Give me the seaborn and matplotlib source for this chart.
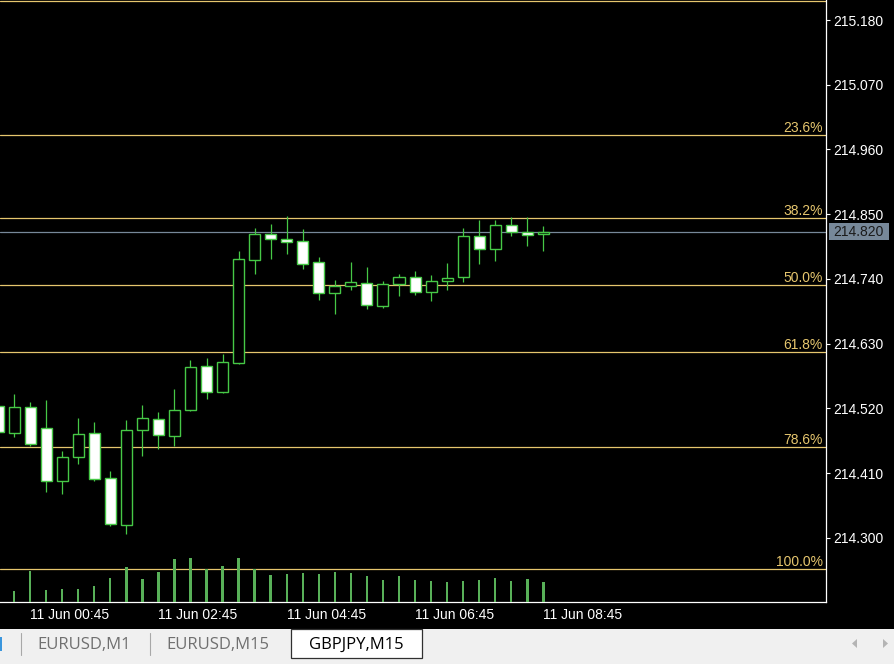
import matplotlib
matplotlib.use("Agg")
import matplotlib.pyplot as plt
from matplotlib.patches import Rectangle, Polygon
from matplotlib.transforms import blended_transform_factory
import numpy as np
import seaborn as sns

# GBPJPY M15 bars, 11 Jun
times = ["00:15", "00:30", "00:45", "01:00", "01:15", "01:30", "01:45", "02:00",
         "02:15", "02:30", "02:45", "03:00", "03:15", "03:30", "03:45", "04:00",
         "04:15", "04:30", "04:45", "05:00", "05:15", "05:30", "05:45", "06:00",
         "06:15", "06:30", "06:45", "07:00", "07:15", "07:30", "07:45", "08:00",
         "08:15", "08:30", "08:45"]
opens = [214.524, 214.478, 214.523, 214.487, 214.397, 214.438, 214.478, 214.402,
         214.322, 214.483, 214.502, 214.473, 214.517, 214.592, 214.548, 214.597,
         214.772, 214.816, 214.808, 214.805, 214.769, 214.716, 214.728, 214.733,
         214.694, 214.731, 214.743, 214.718, 214.737, 214.743, 214.813, 214.791,
         214.832, 214.820, 214.816]
highs = [214.534, 214.545, 214.531, 214.534, 214.448, 214.504, 214.497, 214.414,
         214.500, 214.526, 214.514, 214.553, 214.602, 214.606, 214.613, 214.788,
         214.827, 214.833, 214.847, 214.825, 214.777, 214.738, 214.769, 214.760,
         214.737, 214.748, 214.754, 214.747, 214.767, 214.827, 214.840, 214.840,
         214.845, 214.845, 214.830]
lows = [214.473, 214.472, 214.456, 214.378, 214.375, 214.426, 214.397, 214.320,
        214.307, 214.439, 214.451, 214.456, 214.515, 214.536, 214.547, 214.596,
        214.749, 214.774, 214.782, 214.757, 214.704, 214.681, 214.721, 214.689,
        214.691, 214.711, 214.713, 214.703, 214.721, 214.735, 214.765, 214.771,
        214.813, 214.796, 214.788]
closes = [214.480, 214.523, 214.460, 214.397, 214.438, 214.477, 214.400, 214.324,
          214.483, 214.504, 214.475, 214.517, 214.590, 214.548, 214.599, 214.774,
          214.816, 214.808, 214.803, 214.765, 214.716, 214.728, 214.735, 214.696,
          214.731, 214.743, 214.718, 214.737, 214.742, 214.813, 214.791, 214.832,
          214.820, 214.815, 214.820]
volumes = [900, 440, 1240, 480, 520, 520, 640, 960, 1400, 920, 1200, 1720, 1760,
           1320, 1440, 1760, 1320, 1080, 1120, 1160, 1120, 1200, 1160, 1040, 880,
           1040, 880, 840, 800, 840, 880, 960, 840, 920, 800]

price_ticks = [215.180, 215.070, 214.960, 214.850, 214.740, 214.630, 214.520, 214.410, 214.300]
time_ticks = ["00:45", "02:45", "04:45", "06:45", "08:45"]
date_label = "11 Jun"
current_price = 214.820

fib_high = 215.213
fib_low = 214.247
fib_levels = [0.0, 23.6, 38.2, 50.0, 61.8, 78.6, 100.0]

tabs = ["EURUSD,M1", "EURUSD,M15", "GBPJPY,M15"]

GREEN = "#46C846"
VOL_GREEN = "#58B058"
FIB = "#E6C66E"
GREY = "#778899"

sns.set_style("dark", {"axes.facecolor": "black", "figure.facecolor": "black"})
plt.rcParams["font.family"] = ["Liberation Sans", "DejaVu Sans"]

fig = plt.figure(figsize=(8.95, 6.64), dpi=100, facecolor="black")
ax = fig.add_axes([0, 62 / 664, 826 / 895, 602 / 664])
ax.set_facecolor("black")

y_lo, y_hi = 214.19121, 215.21398

idx = np.arange(len(times))
o = np.array(opens)
c = np.array(closes)

# volumes on a hidden twin axis
vax = ax.twinx()
sns.barplot(x=idx, y=volumes, native_scale=True, width=0.15, color=VOL_GREEN,
            saturation=1, errorbar=None, linewidth=0, ax=vax)
vax.set_ylim(0, 24080)
vax.set_yticks([])
vax.set_xlabel("")
vax.set_ylabel("")
for s in vax.spines.values():
    s.set_visible(False)

# fibo levels (the 0% label sits above the visible window)
for lv in fib_levels:
    p = fib_high - (fib_high - fib_low) * lv / 100
    ax.axhline(p, color=FIB, lw=0.9, zorder=1)
    if p < y_hi - 0.02:
        ax.annotate(f"{lv:.1f}%", xy=(1, p), xycoords=("axes fraction", "data"),
                    xytext=(-3, 3), textcoords="offset pixels", ha="right", va="baseline",
                    color=FIB, fontsize=10)

# bid line
ax.axhline(current_price, color=GREY, lw=0.9, zorder=1)

# candles
ax.vlines(idx, lows, highs, color=GREEN, lw=0.9, zorder=2)
faces = np.where(c >= o, "black", "white")
ax.bar(idx, np.abs(c - o), bottom=np.minimum(o, c), width=0.69, color=faces,
       edgecolor=GREEN, linewidth=1.0, zorder=3)

ax.set_xlim(2 / 16.04, 828 / 16.04)
ax.set_ylim(y_lo, y_hi)
vax.set_xlim(2 / 16.04, 828 / 16.04)

ax.yaxis.tick_right()
ax.set_yticks(price_ticks)
ax.set_yticklabels([f"{p:.3f}" for p in price_ticks])
ax.set_xticks([times.index(t) for t in time_ticks])
ax.set_xticklabels([f"{date_label} {t}" for t in time_ticks], ha="left")
ax.tick_params(axis="both", colors="white", labelcolor="white", labelsize=10,
               direction="out", length=3, width=0.8, pad=2)
ax.tick_params(axis="x", pad=1.5)
ax.grid(False)
for side in ["top", "left"]:
    ax.spines[side].set_visible(False)
for side in ["right", "bottom"]:
    ax.spines[side].set_visible(True)
    ax.spines[side].set_color("white")
    ax.spines[side].set_linewidth(0.9)

# current price tag on the scale
tr = blended_transform_factory(ax.transAxes, ax.transData)
ax.add_patch(Rectangle((1 + 3 / 826, current_price - 8.5 / 588.6), 60 / 826, 17 / 588.6,
                       transform=tr, facecolor=GREY, edgecolor="none", clip_on=False, zorder=5))
ax.text(1 + 7 / 826, current_price, f"{current_price:.3f}", transform=tr, ha="left",
        va="center", color="#1A1A1A", fontsize=10, clip_on=False, zorder=6)

# terminal tab bar
ui = fig.add_axes([0, 0, 1, 1])
ui.set_xlim(0, 895)
ui.set_ylim(664, 0)
ui.axis("off")
ui.patch.set_visible(False)
ui.add_patch(Rectangle((0, 629), 895, 35, facecolor="#F0F0F0", edgecolor="none"))
ui.add_patch(Rectangle((0, 637), 2, 14, facecolor="#3A96DD", edgecolor="none"))
for sx in [21, 150]:
    ui.plot([sx, sx], [633, 655], color="#A8A8A8", lw=0.8)
ui.add_patch(Rectangle((291, 629), 131, 29, facecolor="white", edgecolor="#303030", lw=0.9))
tab_x = [37, 166, 309]
for t, tx in zip(tabs, tab_x):
    ui.text(tx, 645, t, ha="left", va="center", fontsize=12, family=["Open Sans", "DejaVu Sans"],
            color="black" if t == "GBPJPY,M15" else "#707070")
ui.add_patch(Polygon([[857, 639], [857, 648], [852, 643.5]], closed=True, facecolor="#B4B4B4", edgecolor="none"))
ui.add_patch(Polygon([[883, 639], [883, 648], [888, 643.5]], closed=True, facecolor="#B4B4B4", edgecolor="none"))

fig.savefig("out.png", dpi=100, facecolor="black")
